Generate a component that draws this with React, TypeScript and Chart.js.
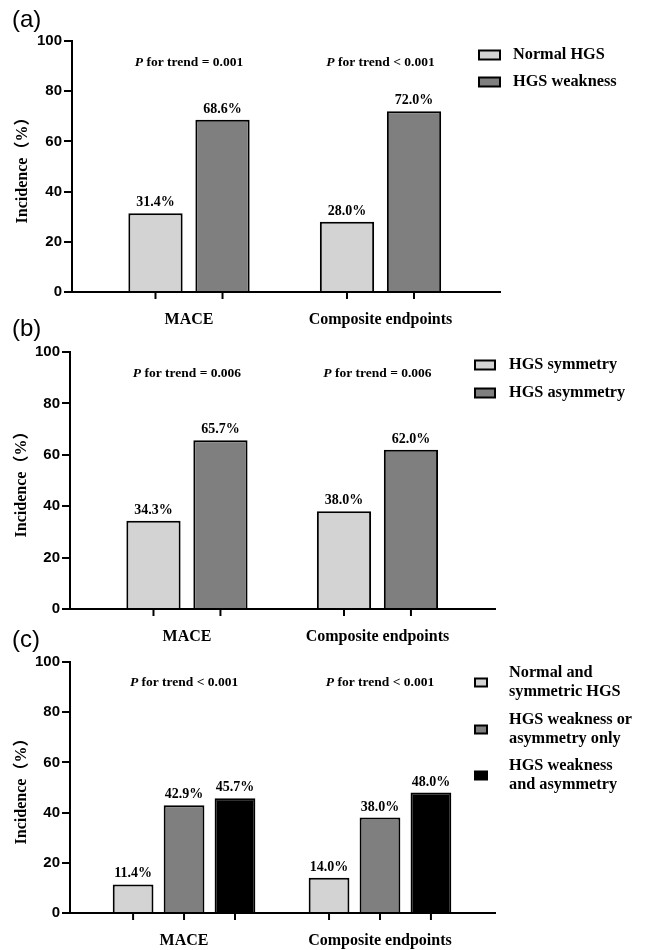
import React, { useEffect, useRef } from 'react';
import { Chart, registerables } from 'chart.js';
Chart.register(...registerables);

// ---------- data ----------
const categories = ['MACE', 'Composite endpoints'];
const yTickStep = 20;
const yMax = 100;
const yTitle = 'Incidence（%）';

const labelsA = ['Normal HGS', 'HGS weakness'];
const normalHGS = [31.4, 28.0];
const hgsWeakness = [68.6, 72.0];
const pTrendA = ['= 0.001', '< 0.001'];

const labelsB = ['HGS symmetry', 'HGS asymmetry'];
const hgsSymmetry = [34.3, 38.0];
const hgsAsymmetry = [65.7, 62.0];
const pTrendB = ['= 0.006', '= 0.006'];

const labelsC = [
  ['Normal and', 'symmetric HGS'],
  ['HGS weakness or', 'asymmetry only'],
  ['HGS weakness', 'and asymmetry'],
];
const normalSymmetric = [11.4, 14.0];
const weaknessOrAsym = [42.9, 38.0];
const weaknessAndAsym = [45.7, 48.0];
const pTrendC = ['< 0.001', '< 0.001'];

// ---------- styles ----------
const LIGHT = '#d3d3d3';
const DARK = '#7f7f7f';
const BLACK = '#000000';
const SERIF = '"Liberation Serif", "Times New Roman", serif';
const SERIF_CJK = '"Liberation Serif", "Noto Sans CJK SC", serif';
const SANS = '"Liberation Sans", Arial, sans-serif';

type PanelCfg = {
  tag: string;
  top: number;
  height: number;
  area: { left: number; right: number; top: number; bottom: number };
  xMin: number;
  xMax: number;
  catPct: number;
  barPct: number;
  series: { label: string[]; values: number[]; color: string }[];
  pTrend: string[];
  pY: number;
  legend: { boxX: number; boxW: number; boxH: number; textX: number; rows: number[]; lineH: number };
  titlePad: number;
  tagY: number;
};

const panels: PanelCfg[] = [
  {
    tag: '(a)', top: 0, height: 335,
    area: { left: 72, right: 500, top: 41, bottom: 292 },
    xMin: -0.611, xMax: 1.624, catPct: 0.70, barPct: 0.81,
    series: [
      { label: [labelsA[0]], values: normalHGS, color: LIGHT },
      { label: [labelsA[1]], values: hgsWeakness, color: DARK },
    ],
    pTrend: pTrendA, pY: 63,
    legend: { boxX: 479, boxW: 21, boxH: 9, textX: 513, rows: [55, 82], lineH: 19 },
    titlePad: 13, tagY: 20,
  },
  {
    tag: '(b)', top: 310, height: 340,
    area: { left: 70, right: 495, top: 42, bottom: 299 },
    xMin: -0.614, xMax: 1.617, catPct: 0.703, barPct: 0.81,
    series: [
      { label: [labelsB[0]], values: hgsSymmetry, color: LIGHT },
      { label: [labelsB[1]], values: hgsAsymmetry, color: DARK },
    ],
    pTrend: pTrendB, pY: 64,
    legend: { boxX: 475, boxW: 20, boxH: 9, textX: 509, rows: [55, 83], lineH: 19 },
    titlePad: 12, tagY: 19,
  },
  {
    tag: '(c)', top: 620, height: 330,
    area: { left: 70, right: 495, top: 42, bottom: 293 },
    xMin: -0.582, xMax: 1.587, catPct: 0.78, barPct: 0.8,
    series: [
      { label: labelsC[0], values: normalSymmetric, color: LIGHT },
      { label: labelsC[1], values: weaknessOrAsym, color: DARK },
      { label: labelsC[2], values: weaknessAndAsym, color: BLACK },
    ],
    pTrend: pTrendC, pY: 63,
    legend: { boxX: 475, boxW: 12, boxH: 8, textX: 509, rows: [53, 100, 146], lineH: 19 },
    titlePad: 12, tagY: 20,
  },
];

function Panel({ cfg }: { cfg: PanelCfg }) {
  const ref = useRef<HTMLCanvasElement | null>(null);
  useEffect(() => {
    if (!ref.current) return;
    const W = 646;
    const H = cfg.height;
    const a = cfg.area;

    const overlay = {
      id: 'overlay',
      afterDatasetsDraw(chart: any) {
        const ctx = chart.ctx;
        const xs = chart.scales.x;
        const bottom = chart.chartArea.bottom;
        ctx.save();
        // tick marks at bar centers + value labels
        chart.data.datasets.forEach((ds: any, di: number) => {
          const meta = chart.getDatasetMeta(di);
          meta.data.forEach((el: any, i: number) => {
            ctx.strokeStyle = '#000';
            ctx.lineWidth = 2;
            ctx.beginPath();
            ctx.moveTo(el.x, bottom);
            ctx.lineTo(el.x, bottom + 7);
            ctx.stroke();
            ctx.fillStyle = '#000';
            ctx.font = `bold 14px ${SERIF}`;
            ctx.textAlign = 'center';
            ctx.textBaseline = 'alphabetic';
            ctx.fillText(ds.data[i].y.toFixed(1) + '%', el.x, el.y - 7);
          });
        });
        // P for trend
        cfg.pTrend.forEach((p, i) => {
          const cx = xs.getPixelForValue(i);
          const fi = `italic bold 13.5px ${SERIF}`;
          const fb = `bold 13.5px ${SERIF}`;
          ctx.font = fi;
          const w1 = ctx.measureText('P').width;
          ctx.font = fb;
          const rest = ' for trend ' + p;
          const w2 = ctx.measureText(rest).width;
          const x0 = cx - (w1 + w2) / 2;
          ctx.textAlign = 'left';
          ctx.textBaseline = 'middle';
          ctx.fillStyle = '#000';
          ctx.font = fi;
          ctx.fillText('P', x0, cfg.pY);
          ctx.font = fb;
          ctx.fillText(rest, x0 + w1, cfg.pY);
        });
        // legend
        const lg = cfg.legend;
        chart.data.datasets.forEach((ds: any, di: number) => {
          const lines: string[] = ds.legendLines;
          const y0 = lg.rows[di];
          const boxCy = y0 + ((lines.length - 1) * lg.lineH) / 2;
          ctx.fillStyle = ds.backgroundColor;
          ctx.fillRect(lg.boxX, boxCy - lg.boxH / 2, lg.boxW, lg.boxH);
          ctx.strokeStyle = '#000';
          ctx.lineWidth = 2;
          ctx.strokeRect(lg.boxX, boxCy - lg.boxH / 2, lg.boxW, lg.boxH);
          ctx.fillStyle = '#000';
          ctx.font = `bold 16.3px ${SERIF}`;
          ctx.textAlign = 'left';
          ctx.textBaseline = 'middle';
          lines.forEach((t, li) => ctx.fillText(t, lg.textX, y0 + li * lg.lineH));
        });
        // panel tag
        ctx.font = `24px ${SANS}`;
        ctx.textAlign = 'left';
        ctx.textBaseline = 'middle';
        ctx.fillStyle = '#000';
        ctx.fillText(cfg.tag, 12, cfg.tagY);
        ctx.restore();
      },
    };

    const chart = new Chart(ref.current, {
      type: 'bar',
      data: {
        datasets: cfg.series.map((s) => ({
          label: s.label.join(' '),
          legendLines: s.label,
          data: s.values.map((v, i) => ({ x: i, y: v })),
          backgroundColor: s.color,
          borderColor: '#000',
          borderWidth: 2,
          borderSkipped: 'bottom',
          categoryPercentage: cfg.catPct,
          barPercentage: cfg.barPct,
        })) as any,
      },
      options: {
        responsive: false,
        animation: false,
        devicePixelRatio: 1,
        layout: {
          padding: { left: 0, right: W - a.right, top: a.top, bottom: 0 },
        },
        plugins: {
          legend: { display: false },
          tooltip: { enabled: false },
        },
        scales: {
          x: {
            type: 'linear',
            offset: false,
            min: cfg.xMin,
            max: cfg.xMax,
            grid: { display: false, drawTicks: false, offset: false },
            border: { display: true, color: '#000', width: 2 },
            ticks: {
              color: '#000',
              font: { family: SERIF, weight: 'bold', size: 16 },
              padding: 18,
              maxRotation: 0,
              autoSkip: false,
              callback: (v: any) => categories[v as number] ?? '',
            },
            afterBuildTicks: (s: any) => {
              s.ticks = categories.map((_, i) => ({ value: i }));
            },
            afterFit: (s: any) => {
              s.height = H - a.bottom;
            },
          },
          y: {
            min: 0,
            max: yMax,
            ticks: {
              stepSize: yTickStep,
              color: '#000',
              font: { family: SANS, weight: 'bold', size: 15 },
              padding: 2,
            },
            grid: {
              display: true,
              drawOnChartArea: false,
              drawTicks: true,
              tickLength: 8,
              color: '#000',
              lineWidth: 2,
            },
            border: { display: true, color: '#000', width: 2 },
            title: {
              display: true,
              text: yTitle,
              color: '#000',
              font: { family: SERIF_CJK, weight: 'bold', size: 16 },
              padding: { top: cfg.titlePad, bottom: 0 },
            },
            afterFit: (s: any) => {
              s.width = a.left;
            },
          },
        },
      } as any,
      plugins: [overlay],
    });
    return () => chart.destroy();
  }, [cfg]);
  return (
    <canvas
      ref={ref}
      width={646}
      height={cfg.height}
      style={{ position: 'absolute', left: 0, top: cfg.top, width: 646, height: cfg.height }}
    />
  );
}

export default function App() {
  return (
    <div style={{ position: 'absolute', left: 0, top: 0, width: 646, height: 950, background: '#fff' }}>
      {panels.map((p) => (
        <Panel key={p.tag} cfg={p} />
      ))}
    </div>
  );
}
